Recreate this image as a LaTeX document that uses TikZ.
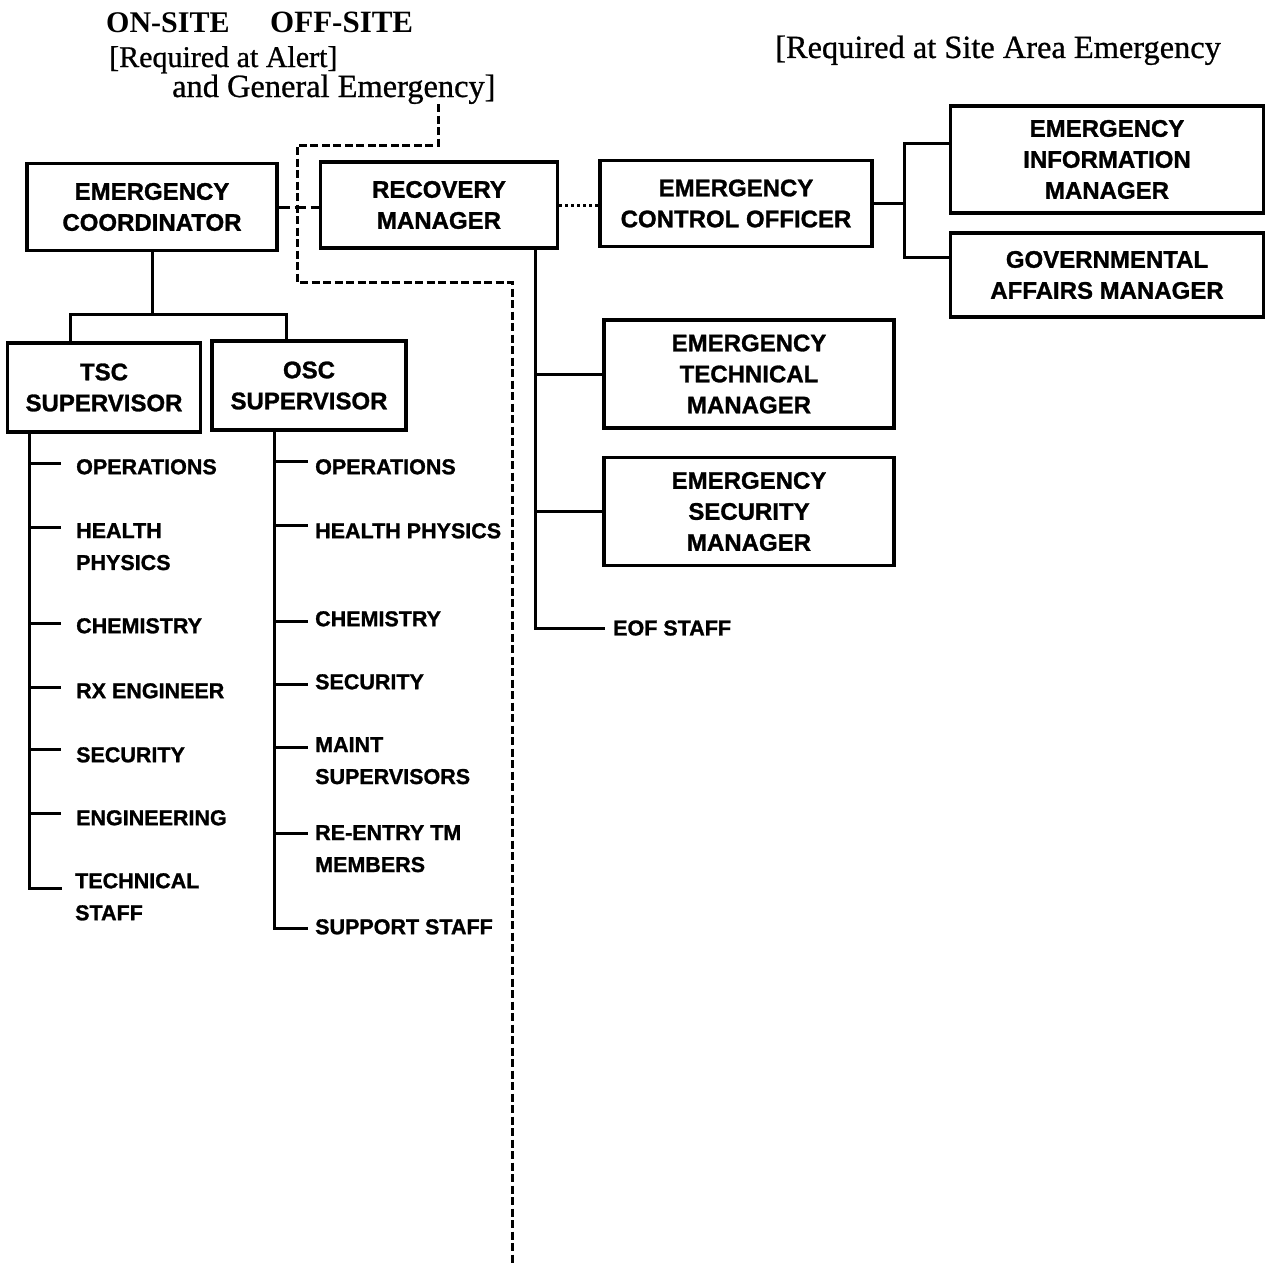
\documentclass[tikz,border=0pt]{standalone}
\usepackage{fontspec}
\setmainfont{Liberation Serif}
\setsansfont{Liberation Sans}[FakeBold=1.2]
\newfontfamily\heavysans{Liberation Sans}[FakeBold=1.2]
\newfontfamily\heavyserif{Liberation Serif}[FakeBold=0.8]
\newcommand\lsttick[4]{\draw[con] ([xshift=-#2pt,yshift=-#4pt]#1.north west) -- ++(#3,0);}
\begin{document}
\begin{tikzpicture}[x=1pt,y=-1pt,
  box/.style={draw, line width=3.2pt, align=center, inner sep=0pt,
    font=\heavysans\bfseries\fontsize{24}{31}\selectfont},
  lbl/.style={anchor=north west, align=left, inner sep=0pt,
    font=\heavysans\bfseries\fontsize{21.5}{32}\selectfont},
  con/.style={line width=3pt},
  dsh/.style={line width=3pt, dash pattern=on 8pt off 3.5pt},
  dotl/.style={line width=3pt, dash pattern=on 3pt off 3pt},
  hdr/.style={anchor=base west, inner sep=0pt, font=\heavyserif\fontsize{30}{30}\selectfont},
  hdrb/.style={hdr, font=\bfseries\fontsize{30}{30}\selectfont}]
\useasboundingbox (0,0) rectangle (1268,1263);

% headers
\node[hdrb] (onsite) at (106,33) {ON-SITE};
\node[hdrb, font=\bfseries\fontsize{31}{30}\selectfont] (offsite) at (270,33) {OFF-SITE};
\node[hdr] (req1) at (109,67) {[Required at Alert]};
\node[hdr, font=\heavyserif\fontsize{32.4}{32}\selectfont] (req2) at (172,97) {and General Emergency]};
\node[hdr, font=\heavyserif\fontsize{32.4}{32}\selectfont] (req3) at (775,58) {[Required at Site Area Emergency};

% boxes
\node[box, minimum width=250pt, minimum height=87pt] (ec) at (152,207) {EMERGENCY\\COORDINATOR};
\node[box, minimum width=237pt, minimum height=86pt] (rm) at (439,205) {RECOVERY\\MANAGER};
\node[box, minimum width=272pt, minimum height=86pt] (eco) at (736,203.5) {EMERGENCY\\CONTROL OFFICER};
\node[box, minimum width=313pt, minimum height=107pt] (eim) at (1107,159.5) {EMERGENCY\\INFORMATION\\MANAGER};
\node[box, minimum width=313pt, minimum height=84pt] (gam) at (1107,275) {GOVERNMENTAL\\AFFAIRS MANAGER};
\node[box, minimum width=193pt, minimum height=89pt] (tsc) at (104,387.5) {TSC\\SUPERVISOR};
\node[box, minimum width=194pt, minimum height=89pt] (osc) at (309,385.5) {OSC\\SUPERVISOR};
\node[box, minimum width=290pt, minimum height=108pt] (etm) at (749,374) {EMERGENCY\\TECHNICAL\\MANAGER};
\node[box, minimum width=290pt, minimum height=108pt] (esm) at (749,511.5) {EMERGENCY\\SECURITY\\MANAGER};

% dashed boundary
\coordinate (dtop) at (438,104);
\coordinate (d1) at (297,145);
\coordinate (d2) at (297,282);
\coordinate (d3) at (512,282);
\coordinate (dend) at (512,1263);
\draw[dsh] (dtop) |- (d1) -- (d2) -- (d3) -- (dend);

% top connectors
\draw[dsh, dash pattern=on 11pt off 5pt] (ec.east) -- (ec.east -| rm.west);
\draw[dotl] (rm.east) -- (rm.east -| eco.west);
\coordinate (eb) at (904,0);
\coordinate (eimj) at ([yshift=16.5pt]eim.west);
\coordinate (gamj) at ([yshift=18pt]gam.west);
\draw[con] (eco.east) -- (eco.east -| eb);
\draw[con] (eimj) -| (eb |- gamj) -- (gamj);

% emergency coordinator subtree
\coordinate (tscs) at (70,314);
\coordinate (oscs) at (286,314);
\draw[con] (ec.south) -- (ec.south |- tscs);
\draw[con] (tscs |- tsc.north) -- (tscs) -- (oscs) -- (oscs |- osc.north);

% TSC list
\node[lbl] (t1) at (76,459) {OPERATIONS};
\node[lbl] (t2) at (76,523) {HEALTH\\PHYSICS};
\node[lbl] (t3) at (76,618) {CHEMISTRY};
\node[lbl] (t4) at (76,683) {RX ENGINEER};
\node[lbl] (t5) at (76,747) {SECURITY};
\node[lbl] (t6) at (76,810) {ENGINEERING};
\node[lbl] (t7) at (75,873) {TECHNICAL\\STAFF};
\coordinate (tscbus) at (29,0);
\draw[con] (tsc.south -| tscbus) -- ([xshift=-46pt,yshift=-15pt]t7.north west) -- ++(33,0);
\lsttick{t1}{47}{32}{4}
\lsttick{t2}{47}{32}{4}
\lsttick{t3}{47}{32}{5}
\lsttick{t4}{47}{32}{4}
\lsttick{t5}{47}{32}{2}
\lsttick{t6}{47}{32}{3}

% OSC list
\node[lbl] (o1) at (315,459) {OPERATIONS};
\node[lbl] (o2) at (315,523) {HEALTH PHYSICS};
\node[lbl] (o3) at (315,611) {CHEMISTRY};
\node[lbl] (o4) at (315,674) {SECURITY};
\node[lbl] (o5) at (315,737) {MAINT\\SUPERVISORS};
\node[lbl] (o6) at (315,825) {RE-ENTRY TM\\MEMBERS};
\node[lbl] (o7) at (315,919) {SUPPORT STAFF};
\coordinate (oscbus) at (274,0);
\draw[con] (osc.south -| oscbus) -- ([xshift=-41pt,yshift=-9pt]o7.north west) -- ++(34,0);
\lsttick{o1}{41}{34}{2}
\lsttick{o2}{41}{34}{2}
\lsttick{o3}{41}{34}{10}
\lsttick{o4}{41}{34}{10}
\lsttick{o5}{41}{34}{10}
\lsttick{o6}{41}{34}{8}

% recovery manager subtree
\node[lbl, anchor=west] (eof) at (613,628) {EOF STAFF};
\coordinate (rb) at (535,0);
\draw[con] (rm.south -| rb) |- ([xshift=-8pt]eof.west);
\draw[con] (rb |- etm.west) -- (etm.west);
\draw[con] (rb |- esm.west) -- (esm.west);
\end{tikzpicture}
\end{document}
